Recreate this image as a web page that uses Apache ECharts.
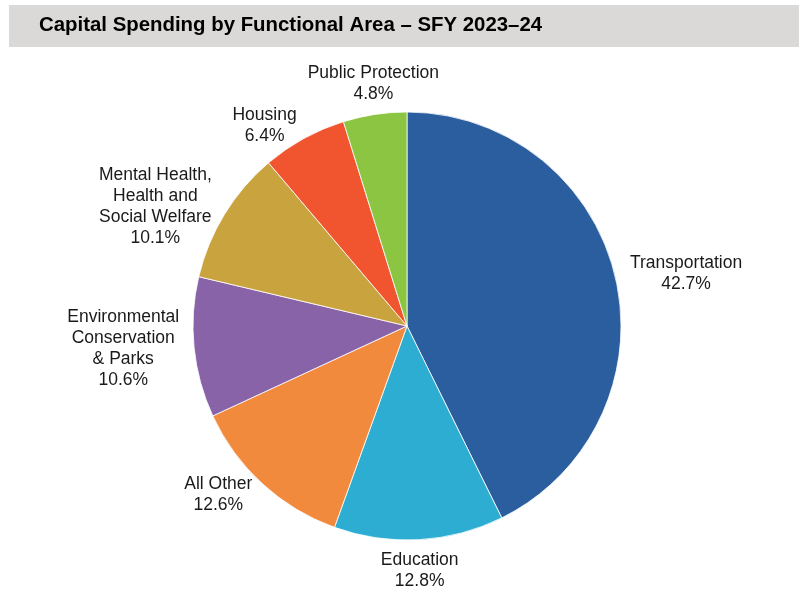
<!DOCTYPE html>
<html>
<head>
<meta charset="utf-8">
<title>Capital Spending by Functional Area – SFY 2023–24</title>
<script src="https://cdn.jsdelivr.net/npm/echarts@6/dist/echarts.min.js"></script>
<style>
  html, body { margin: 0; padding: 0; background: #ffffff; }
  #chart { width: 799px; height: 590px; }
</style>
</head>
<body>
<div id="chart"></div>
<script>
// Functional areas, clockwise from 12 o'clock
const categories = [
  'Transportation',
  'Education',
  'All Other',
  'Environmental\nConservation\n& Parks',
  'Mental Health,\nHealth and\nSocial Welfare',
  'Housing',
  'Public Protection'
];
// Share of capital spending, percent
const shares = [42.7, 12.8, 12.6, 10.6, 10.1, 6.4, 4.8];
const sliceColors = ['#2A5E9F', '#2EADD3', '#F28A3D', '#8963A8', '#C9A33E', '#F0552F', '#8CC541'];

const CENTER = [407, 326];
const RADIUS = 214;
const SIDE_GAP = 15;          // rim-to-anchor distance for labels beside the pie
const END_GAP = 10;           // rim-to-anchor distance for labels above/below the pie
const TOP_BOTTOM_ZONE = 0.94; // |cos| above which a label hangs above/below its anchor

const total = shares.reduce((a, b) => a + b, 0);
const midAngles = [];
let acc = 0;
shares.forEach(v => {
  midAngles.push(((acc + v / 2) / total) * Math.PI * 2);
  acc += v;
});

const chart = echarts.init(document.getElementById('chart'), null, { renderer: 'canvas' });

chart.setOption({
  backgroundColor: '#ffffff',
  animation: false,
  graphic: [{
    type: 'rect',
    left: 9, top: 5,
    shape: { width: 790, height: 42 },
    style: { fill: '#DAD9D7' },
    silent: true,
    z: -1
  }],
  title: {
    text: 'Capital Spending by Functional Area – SFY 2023–24',
    left: 39, top: 15, padding: 0,
    textStyle: {
      fontFamily: 'Liberation Sans, Arial, sans-serif',
      fontSize: 20.4, fontWeight: 'bold', color: '#000000'
    }
  },
  series: [{
    type: 'pie',
    center: CENTER,
    radius: RADIUS,
    startAngle: 90,
    clockwise: true,
    avoidLabelOverlap: false,
    itemStyle: { borderColor: '#ffffff', borderWidth: 0.8 },
    label: {
      show: true,
      position: 'outside',
      fontFamily: 'Liberation Sans, Arial, sans-serif',
      fontSize: 17.5,
      lineHeight: 21,
      color: '#1a1a1a',
      align: 'center',
      formatter: p => p.name + '\n' + p.value.toFixed(1) + '%'
    },
    labelLine: { show: false },
    // anchor each label on its slice's mid-angle ray just beyond the rim;
    // labels near the top/bottom hang above/below the anchor, the rest sit beside it
    labelLayout: function (p) {
      const a = midAngles[p.dataIndex];
      const ux = Math.sin(a), uy = -Math.cos(a);
      const hw = p.labelRect.width / 2, hh = p.labelRect.height / 2;
      const endZone = Math.abs(uy) > TOP_BOTTOM_ZONE;
      const r = RADIUS + (endZone ? END_GAP : SIDE_GAP);
      let x = CENTER[0] + ux * r;
      let y = CENTER[1] + uy * r;
      if (endZone) {
        y += Math.sign(uy) * hh;
      } else {
        x += Math.sign(ux) * hw;
      }
      return { x: x, y: y, align: 'center', verticalAlign: 'middle' };
    },
    emphasis: { disabled: true },
    data: categories.map((name, i) => ({
      name: name,
      value: shares[i],
      itemStyle: { color: sliceColors[i] }
    }))
  }]
});
</script>
</body>
</html>
